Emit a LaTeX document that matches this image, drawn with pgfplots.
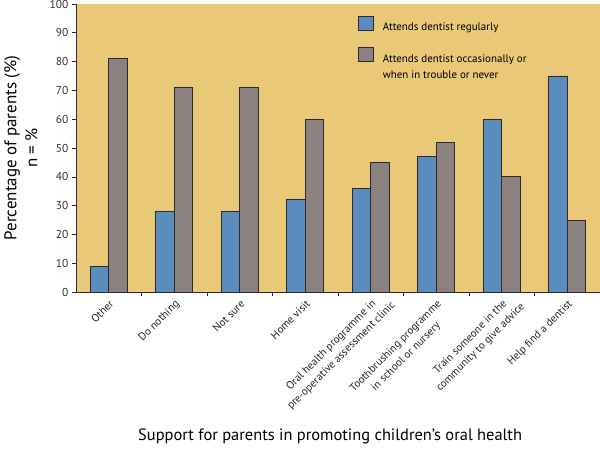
\documentclass[border=0pt]{standalone}
\usepackage{fontspec}
\setmainfont{PT Sans}
\usepackage{pgfplots}
\pgfplotsset{compat=1.18}
\definecolor{bgyellow}{HTML}{E9C977}
\definecolor{barblue}{HTML}{5B8CBE}
\definecolor{bargray}{HTML}{8B817E}
\definecolor{edge}{HTML}{2B2B2B}

\begin{document}
\begin{tikzpicture}
\begin{axis}[
  scale only axis, width=524bp, height=288bp,
  at={(0,0)}, anchor=south west,
  axis background/.style={fill=bgyellow},
  axis lines*=left, axis line style={edge, line width=0.8bp},
  ybar=0pt, bar width=18.5bp,
  xmin=0, xmax=8, ymin=0, ymax=100,
  xtick={0.5,1.5,...,7.5}, major x tick style={draw=none},
  minor xtick={1,2,...,8},
  ytick={0,10,...,100},
  tick align=outside, tick style={edge, line width=0.6bp}, major tick length=4bp, minor tick length=4bp,
  /pgf/number format/assume math mode=true,
  yticklabel style={font=\fontsize{11.5}{13}\selectfont, text=black!80},
  xticklabels={Other, Do nothing, Not sure, Home visit,
    {Oral health programme in\\\makebox[0pt]{pre-operative assessment clinic}},
    {Toothbrushing programme\\\makebox[0pt]{in school or nursery}},
    {Train someone in the\\\makebox[0pt]{community to give advice}},
    Help find a dentist},
  xticklabel style={font=\fontsize{11}{14.5}\selectfont, rotate=45, anchor=north east, align=center, text=black!85, inner sep=2bp},
  ylabel={Percentage of parents (\%)\\n = \%},
  ylabel style={at={(axis description cs:-0.105,0.5)}, anchor=center, align=center, font=\fontsize{17}{21}\selectfont},
  xlabel={Support for parents in promoting children's oral health},
  xlabel style={at={(axis description cs:0.485,-0.503)}, anchor=center, font=\fontsize{16.5}{18}\selectfont},
  legend style={at={(axis description cs:0.538,0.958)}, anchor=north west, draw=none, fill=none,
    inner sep=0pt, row sep=15bp, font=\fontsize{11}{13}\selectfont, nodes={inner sep=0pt}},
  legend cell align=left,
  legend image code/.code={\draw[#1] (0bp,-3bp) rectangle (15bp,11bp);},
]
\addplot[fill=barblue, draw=edge, line width=0.7bp] coordinates {
(0.5,9) (1.5,28) (2.5,28) (3.5,32) (4.5,36) (5.5,47) (6.5,60) (7.5,75)};
\addplot[fill=bargray, draw=edge, line width=0.7bp] coordinates {
(0.5,81) (1.5,71) (2.5,71) (3.5,60) (4.5,45) (5.5,52) (6.5,40) (7.5,25)};
\legend{\hspace{9bp}Attends dentist regularly,
  {\hspace{9bp}\begin{tabular}[t]{@{}l@{}}Attends dentist occasionally or\\[3bp]when in trouble or never\end{tabular}}}
\end{axis}
\pgfresetboundingbox
\useasboundingbox (-76bp,-157bp) rectangle (524bp,292bp);
\end{tikzpicture}
\end{document}
